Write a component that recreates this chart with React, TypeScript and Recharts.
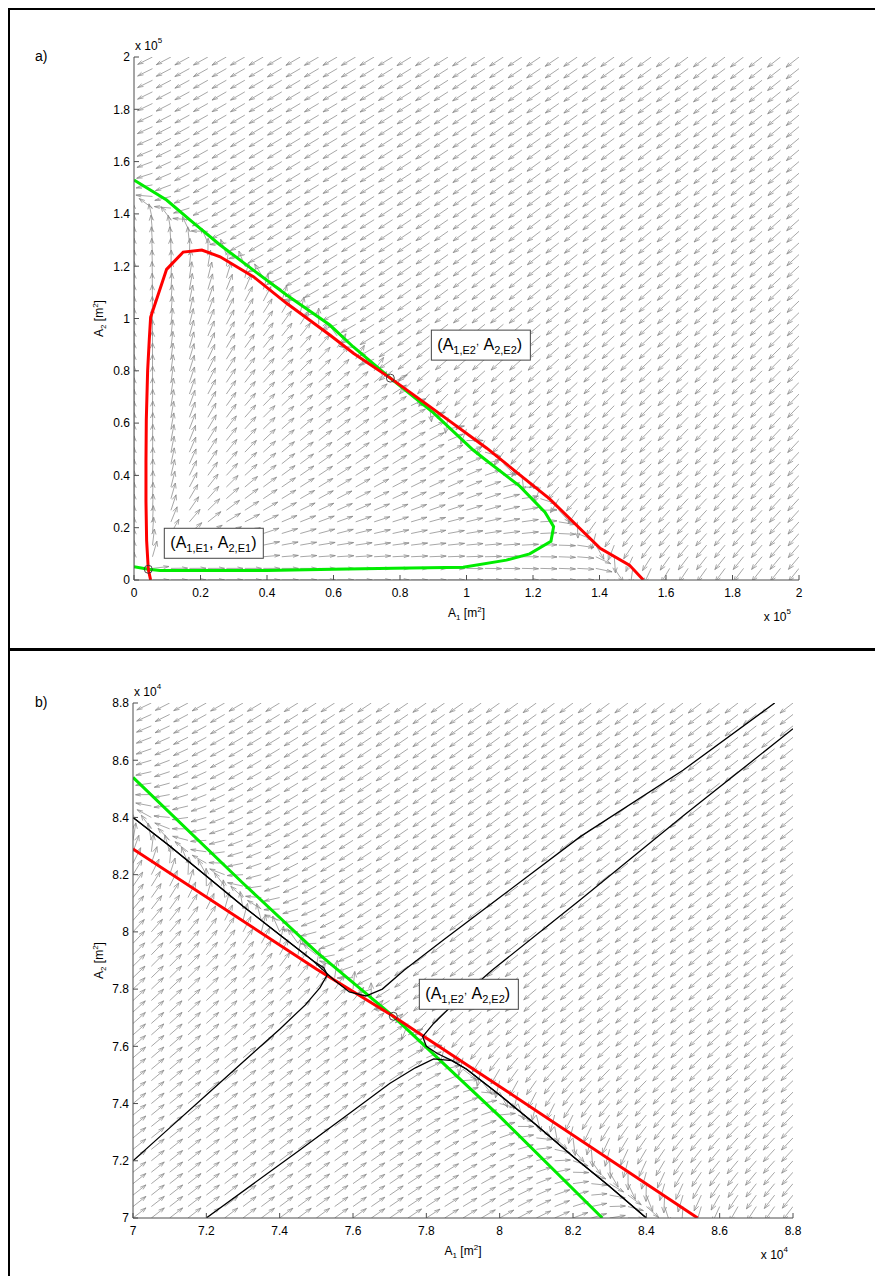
import React from "react";
import { ComposedChart, Line, Scatter, XAxis, YAxis, ReferenceDot } from "recharts";

const FONT = "'Liberation Sans', Arial, Helvetica, sans-serif";
const AXIS = "#4d4d4d";
const ARROW = "#8a8a8a";
const RED = "#ff0000";
const GREEN = "#00ec00";

// ---------- panel a: whole state space (areas in 1e5 m²) ----------
const TICKS_A = [0, 0.2, 0.4, 0.6, 0.8, 1, 1.2, 1.4, 1.6, 1.8, 2];
// dA1/dt = 0
const NULL_A1_A: [number, number][] = [
  [0.05, 0.0], [0.043, 0.041], [0.038, 0.15], [0.036, 0.3], [0.036, 0.45], [0.037, 0.612],
  [0.041, 0.8], [0.046, 0.92], [0.05, 1.005], [0.098, 1.188], [0.148, 1.254], [0.204, 1.262],
  [0.259, 1.236], [0.359, 1.16], [0.459, 1.058], [0.589, 0.937], [0.66, 0.867], [0.771, 0.772],
  [0.89, 0.663], [1.061, 0.504], [1.25, 0.31], [1.402, 0.121], [1.49, 0.057], [1.532, 0.0],
];
// dA2/dt = 0
const NULL_A2_A: [number, number][] = [
  [0.0, 1.53], [0.098, 1.453], [0.168, 1.377], [0.259, 1.281], [0.359, 1.185], [0.459, 1.09],
  [0.589, 0.975], [0.659, 0.892], [0.771, 0.772], [0.9, 0.64], [1.02, 0.497], [1.058, 0.459],
  [1.16, 0.359], [1.236, 0.259], [1.262, 0.204], [1.254, 0.148], [1.19, 0.1], [1.12, 0.076],
  [0.99, 0.049], [0.78, 0.045], [0.6, 0.041], [0.4, 0.036], [0.078, 0.036], [0.043, 0.041],
  [0.0, 0.051],
];
const EQUILIBRIA_A = [
  { x: 0.043, y: 0.041 },
  { x: 0.771, y: 0.772 },
];

// ---------- panel b: neighbourhood of the saddle (areas in 1e4 m²) ----------
const TICKS_B = [7, 7.2, 7.4, 7.6, 7.8, 8, 8.2, 8.4, 8.6, 8.8];
const NULL_A1_B: [number, number][] = [
  [7.0, 8.29], [7.5, 7.87], [7.71, 7.705], [8.0, 7.46], [8.54, 7.0],
];
const NULL_A2_B: [number, number][] = [
  [7.0, 8.54], [7.3, 8.17], [7.5, 7.93], [7.71, 7.705], [8.0, 7.355], [8.28, 7.0],
];
const TRAJ_1: [number, number][] = [
  [7.0, 7.2], [7.1, 7.315], [7.2, 7.43], [7.3, 7.545], [7.4, 7.66], [7.47, 7.745], [7.51, 7.805],
  [7.53, 7.85], [7.52, 7.875], [7.49, 7.9], [7.4, 7.99], [7.3, 8.09], [7.2, 8.195], [7.1, 8.3],
  [7.0, 8.4],
];
const TRAJ_2: [number, number][] = [
  [8.75, 8.8], [8.5, 8.565], [8.22, 8.333], [8.0, 8.12], [7.85, 7.975], [7.74, 7.867], [7.68, 7.8],
  [7.635, 7.776], [7.59, 7.79], [7.55, 7.83], [7.49, 7.9], [7.4, 7.99], [7.3, 8.09], [7.2, 8.195],
  [7.1, 8.3], [7.0, 8.4],
];
const TRAJ_3: [number, number][] = [
  [7.2, 7.0], [7.455, 7.238], [7.6, 7.375], [7.7, 7.47], [7.77, 7.525], [7.82, 7.556], [7.87, 7.55],
  [7.91, 7.52], [8.0, 7.43], [8.1, 7.325], [8.2, 7.215], [8.3, 7.11], [8.4, 7.0],
];
const TRAJ_4: [number, number][] = [
  [8.8, 8.71], [8.5, 8.405], [8.22, 8.112], [7.98, 7.867], [7.88, 7.755], [7.82, 7.68], [7.79, 7.634],
  [7.8, 7.6], [7.83, 7.575], [7.87, 7.55], [7.91, 7.52], [8.0, 7.43], [8.1, 7.325], [8.2, 7.215],
  [8.3, 7.11], [8.4, 7.0],
];
const EQUILIBRIA_B = [{ x: 7.71, y: 7.705 }];

// ---------- growth model behind the direction field (areas in 1e5 m²) ----------
const K_CAP = 1.3713;
const SELF = 0.868;
const CROSS = 0.2;
const THETA = 0.035;
const WIDTH = 0.19;
const EPS = 0.05;
const BUMP = 1.19;
const E_STAR = 0.77;
const K_OUT = 1.6;
const CROWD = 0.12;

function growth(a: number, b: number): number {
  const bump = BUMP * a * Math.max(0, E_STAR - a) ** 2;
  const L = K_CAP - SELF * a - b + CROSS * a * b + bump;
  const s = Math.sqrt(Math.max(a, 0));
  const base = L > 0 ? L * Math.tanh((a - THETA) / WIDTH) * s : L;
  return base - EPS * s - CROWD * b * Math.max(0, a + b - K_OUT);
}

// quiver grid and arrow geometry
const GRID_COLS = 37;
const GRID_ROWS = 46;
const HEAD = 0.33;
const HEAD_WIDTH = 0.33;

type Pt = { x: number; y: number | null };

function buildQuiver(
  x0: number, x1: number, y0: number, y1: number, toModel: number, lx: number, ly: number,
): Pt[] {
  const out: Pt[] = [];
  for (let i = 0; i < GRID_COLS; i++) {
    for (let j = 0; j < GRID_ROWS; j++) {
      const x = x0 + ((x1 - x0) * i) / (GRID_COLS - 1);
      const y = y0 + ((y1 - y0) * j) / (GRID_ROWS - 1);
      const f1 = growth(x * toModel, y * toModel);
      const f2 = growth(y * toModel, x * toModel);
      const m = Math.hypot(f1, f2) || 1;
      let u = f1 / m;
      let v = f2 / m;
      const r = 1 / Math.sqrt((u / lx) ** 2 + (v / ly) ** 2);
      u *= r;
      v *= r;
      const hx = x + u;
      const hy = y + v;
      const b1x = hx - HEAD * (u + HEAD_WIDTH * v);
      const b1y = hy - HEAD * (v - HEAD_WIDTH * u);
      const b2x = hx - HEAD * (u - HEAD_WIDTH * v);
      const b2y = hy - HEAD * (v + HEAD_WIDTH * u);
      out.push(
        { x, y }, { x: hx, y: hy }, { x: b1x, y: b1y }, { x: b1x, y: null },
        { x: b2x, y: b2y }, { x: hx, y: hy }, { x: hx, y: null },
      );
    }
  }
  return out;
}

const QUIVER_A = buildQuiver(0, 2, 0, 2, 1, 0.05, 0.062);
const QUIVER_B = buildQuiver(7, 8.8, 7, 8.8, 0.1, 0.043, 0.062);

const rows = (pts: [number, number][]) => pts.map(([x, y]) => ({ x, y }));
const fmt = (v: number) => String(Math.round(v * 10) / 10);

// ---------- axis ticks (MATLAB style, pointing inwards) ----------
const XTick = (p: any) => (
  <g>
    <line x1={p.x} x2={p.x} y1={p.y} y2={p.y - 5} stroke={AXIS} strokeWidth={1} />
    <text x={p.x} y={p.y + 17} textAnchor="middle" fontSize={12} fontFamily={FONT} fill="#000">
      {fmt(p.payload.value)}
    </text>
  </g>
);
const YTick = (p: any) => (
  <g>
    <line x1={p.x} x2={p.x + 5} y1={p.y} y2={p.y} stroke={AXIS} strokeWidth={1} />
    <text x={p.x - 4} y={p.y + 4.3} textAnchor="end" fontSize={12} fontFamily={FONT} fill="#000">
      {fmt(p.payload.value)}
    </text>
  </g>
);

const EqMarker = (p: any) => (
  <circle cx={p.cx} cy={p.cy} r={4} fill="none" stroke="#333" strokeWidth={0.9} />
);

const eqLabel = (idx: string, dx: number, dy: number, raisedComma: boolean) => (p: any) => {
  const bx = p.cx + dx;
  const by = p.cy + dy;
  return (
    <g>
      <rect x={bx} y={by} width={99} height={30} fill="#fff" stroke="#444" strokeWidth={1} />
      <text x={bx + 6} y={by + 20} fontSize={16} fontFamily={FONT} fill="#000">
        <tspan>(A</tspan>
        <tspan fontSize={11} dy={4}>{`1,${idx}`}</tspan>
        {raisedComma ? (
          <>
            <tspan fontSize={11} dy={-9}>,</tspan>
            <tspan dy={5}>{"\u00a0A"}</tspan>
          </>
        ) : (
          <tspan dy={-4}>{",\u00a0A"}</tspan>
        )}
        <tspan fontSize={11} dy={4}>{`2,${idx}`}</tspan>
        <tspan dy={-4}>)</tspan>
      </text>
    </g>
  );
};

const AreaCaption = ({ x, y, n, rotate }: { x: number; y: number; n: string; rotate?: boolean }) => (
  <text
    x={x}
    y={y}
    textAnchor="middle"
    fontSize={12}
    fontFamily={FONT}
    fill="#000"
    transform={rotate ? `rotate(-90 ${x} ${y})` : undefined}
  >
    <tspan>A</tspan>
    <tspan fontSize={8} dy={3}>{n}</tspan>
    <tspan dy={-3}>{"\u00a0[m"}</tspan>
    <tspan fontSize={8} dy={-5}>2</tspan>
    <tspan dy={5}>]</tspan>
  </text>
);

const Multiplier = ({ x, y, exp, anchor }: { x: number; y: number; exp: string; anchor: "start" | "end" }) => (
  <text x={x} y={y} textAnchor={anchor} fontSize={12} fontFamily={FONT} fill="#000">
    <tspan>x 10</tspan>
    <tspan fontSize={8} dy={-7}>{exp}</tspan>
  </text>
);

const lineProps = { dot: false, activeDot: false, isAnimationActive: false, type: "linear" as const };

function PanelA() {
  return (
    <ComposedChart width={875} height={642} margin={{ top: 49, right: 84, left: 76, bottom: 30 }}>
      <XAxis
        type="number" dataKey="x" domain={[0, 2]} ticks={TICKS_A} interval={0} allowDataOverflow
        height={40} tickSize={0} tickMargin={0} tickLine={false} tick={XTick}
        axisLine={{ stroke: AXIS, strokeWidth: 1 }}
      />
      <YAxis
        type="number" dataKey="y" domain={[0, 2]} ticks={TICKS_A} interval={0} allowDataOverflow
        width={50} tickSize={0} tickMargin={0} tickLine={false} tick={YTick}
        axisLine={{ stroke: AXIS, strokeWidth: 1 }}
      />
      <Line data={QUIVER_A} dataKey="y" stroke={ARROW} strokeWidth={0.75} {...lineProps} />
      <Line data={rows(NULL_A2_A)} dataKey="y" stroke={GREEN} strokeWidth={3} {...lineProps} />
      <Line data={rows(NULL_A1_A)} dataKey="y" stroke={RED} strokeWidth={3} {...lineProps} />
      <Scatter data={EQUILIBRIA_A} dataKey="y" shape={EqMarker} isAnimationActive={false} />
      <ReferenceDot x={EQUILIBRIA_A[0].x} y={EQUILIBRIA_A[0].y} r={0} ifOverflow="visible" shape={eqLabel("E1", 16, -41, false)} />
      <ReferenceDot x={EQUILIBRIA_A[1].x} y={EQUILIBRIA_A[1].y} r={0} ifOverflow="visible" shape={eqLabel("E2", 41, -48, true)} />
    </ComposedChart>
  );
}

function PanelB() {
  return (
    <ComposedChart width={875} height={624} margin={{ top: 51, right: 90, left: 75, bottom: 18 }}>
      <XAxis
        type="number" dataKey="x" domain={[7, 8.8]} ticks={TICKS_B} interval={0} allowDataOverflow
        height={40} tickSize={0} tickMargin={0} tickLine={false} tick={XTick}
        axisLine={{ stroke: AXIS, strokeWidth: 1 }}
      />
      <YAxis
        type="number" dataKey="y" domain={[7, 8.8]} ticks={TICKS_B} interval={0} allowDataOverflow
        width={50} tickSize={0} tickMargin={0} tickLine={false} tick={YTick}
        axisLine={{ stroke: AXIS, strokeWidth: 1 }}
      />
      <Line data={QUIVER_B} dataKey="y" stroke={ARROW} strokeWidth={0.75} {...lineProps} />
      <Line data={rows(NULL_A2_B)} dataKey="y" stroke={GREEN} strokeWidth={3} {...lineProps} />
      <Line data={rows(NULL_A1_B)} dataKey="y" stroke={RED} strokeWidth={3} {...lineProps} />
      <Line data={rows(TRAJ_1)} dataKey="y" stroke="#000" strokeWidth={1.3} {...lineProps} />
      <Line data={rows(TRAJ_2)} dataKey="y" stroke="#000" strokeWidth={1.3} {...lineProps} />
      <Line data={rows(TRAJ_3)} dataKey="y" stroke="#000" strokeWidth={1.3} {...lineProps} />
      <Line data={rows(TRAJ_4)} dataKey="y" stroke="#000" strokeWidth={1.3} {...lineProps} />
      <Scatter data={EQUILIBRIA_B} dataKey="y" shape={EqMarker} isAnimationActive={false} />
      <ReferenceDot x={EQUILIBRIA_B[0].x} y={EQUILIBRIA_B[0].y} r={0} ifOverflow="visible" shape={eqLabel("E2", 26, -37, true)} />
    </ComposedChart>
  );
}

const overlay: React.CSSProperties = { position: "absolute", left: 0, pointerEvents: "none" };

export default function App() {
  return (
    <div style={{ position: "relative", width: 875, height: 1268, fontFamily: FONT }}>
      <style>{"html,body{overflow:hidden}"}</style>
      <div style={{ position: "absolute", left: -1, top: -1, width: 880, height: 3, background: "#000" }} />
      <div style={{ position: "absolute", left: -1, top: -1, width: 3, height: 1280, background: "#000" }} />
      <div style={{ position: "absolute", left: -1, top: 640, width: 880, height: 3, background: "#000" }} />

      <div style={{ position: "absolute", left: 0, top: 0 }}>
        <PanelA />
      </div>
      <svg width={875} height={642} style={{ ...overlay, top: 0 }}>
        <text x={27} y={53} fontSize={14} fontFamily={FONT}>a)</text>
        <Multiplier x={127} y={42} exp="5" anchor="start" />
        <Multiplier x={783} y={613} exp="5" anchor="end" />
        <AreaCaption x={458.5} y={609} n="1" />
        <AreaCaption x={95} y={310.5} n="2" rotate />
      </svg>

      <div style={{ position: "absolute", left: 0, top: 644 }}>
        <PanelB />
      </div>
      <svg width={875} height={624} style={{ ...overlay, top: 644 }}>
        <text x={27} y={55} fontSize={14} fontFamily={FONT}>b)</text>
        <Multiplier x={126} y={44} exp="4" anchor="start" />
        <Multiplier x={780} y={607} exp="4" anchor="end" />
        <AreaCaption x={455} y={603} n="1" />
        <AreaCaption x={95} y={308.5} n="2" rotate />
      </svg>
    </div>
  );
}
